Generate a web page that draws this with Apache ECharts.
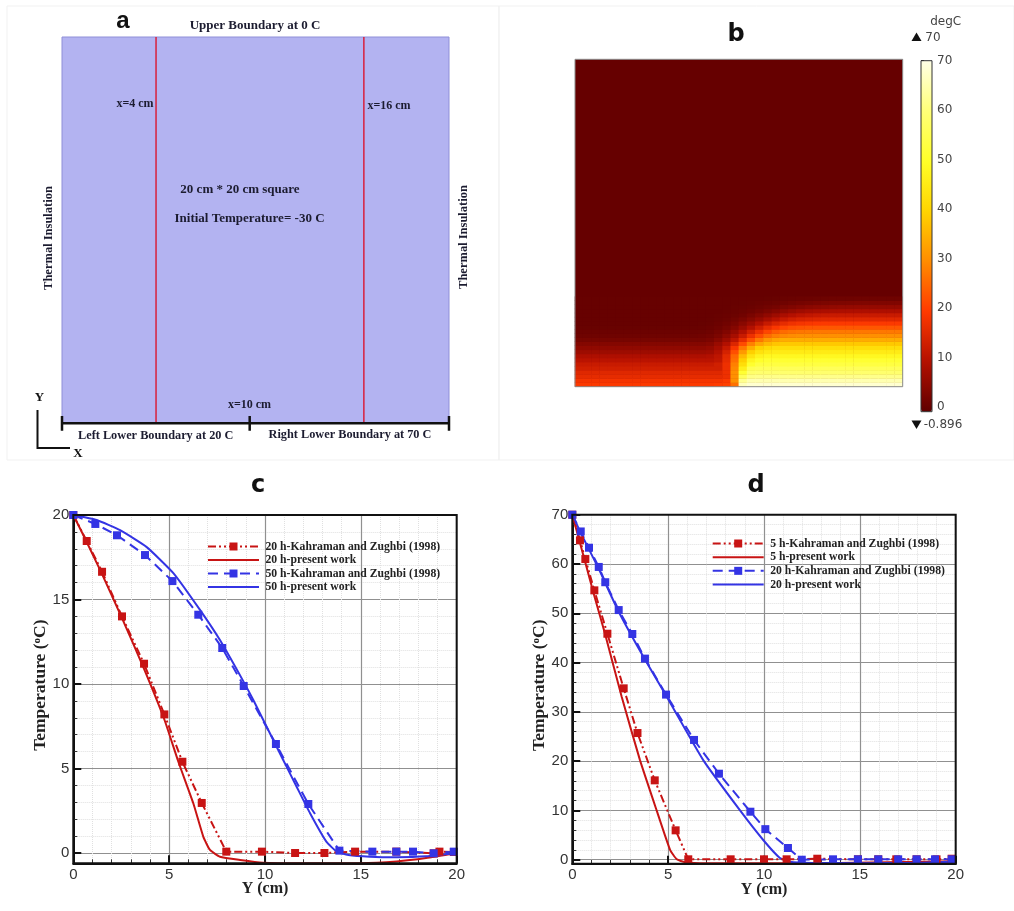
<!DOCTYPE html>
<html>
<head>
<meta charset="utf-8">
<style>html,body{margin:0;padding:0;background:#fff}#chart{width:1014px;height:911px;filter:blur(0.6px)}</style>
<script src="https://cdn.jsdelivr.net/npm/echarts@6/dist/echarts.min.js"></script>
</head>
<body>
<div id="chart"></div>
<script>
// ---------- panel a: section lines and lower boundary (cm) ----------
const sectionLineLeft = [[4.86, 0], [4.86, 20]];
const sectionLineRight = [[15.6, 0], [15.6, 20]];
const lowerBoundary = [[0, 0], [20, 0]];
const boundaryTickA = [[0, -0.38], [0, 0.38]];
const boundaryTickB = [[9.7, -0.38], [9.7, 0.38]];
const boundaryTickC = [[20, -0.38], [20, 0.38]];

// ---------- panel b: temperature, bottom row first ----------
const heatXCategories = ['0.25','0.75','1.25','1.75','2.25','2.75','3.25','3.75','4.25','4.75','5.25','5.75','6.25','6.75','7.25','7.75','8.25','8.75','9.25','9.75','10.25','10.75','11.25','11.75','12.25','12.75','13.25','13.75','14.25','14.75','15.25','15.75','16.25','16.75','17.25','17.75','18.25','18.75','19.25','19.75'];
const heatYCategories = ['0.125','0.375','0.625','0.875','1.125','1.375','1.625','1.875','2.125','2.375','2.625','2.875','3.125','3.375','3.625','3.875','4.125','4.375','4.625','4.875','5.125','5.375'];
const heatRow00 = [19,19,19,19,19,19,19,19,19,19,19,19,19,19,19,19,19,19.5,20,26,66,68,68,68,68,68,68,68,68,68,68,68,68,68,68,68,68,68,68,68];
const heatRow01 = [18,18,18,18,18,18,18,18,18,18,18,18,18,18,18,18,18,18,19,30,62,65,65,65,65,65,65,65,65,65,65,65,65,65,65,65,65,65,65,65];
const heatRow02 = [16,16,16,16,16,16,16,16,16,16,16,16,16,16,16,16,16,16,17,30,56,61,61.5,61.5,61.5,61.5,61.5,61.5,61.5,61.5,61.5,61.5,61.5,61.5,61.5,61.5,61.5,61.5,61.5,61.5];
const heatRow03 = [15,15,15,15,15,15,15,15,15,15,15,15,15,15,15,15,15,15,17,30,51,58,58.5,58.5,58.5,58.5,58.5,58.5,58.5,58.5,58.5,58.5,58.5,58.5,58.5,58.5,58.5,58.5,58.5,58.5];
const heatRow04 = [13,13,13,13,13,13,13,13,13,13,13,13,13,13,13,13,13,13,17,29,46,55,56,56,56,56,56,56,56,56,56,56,56,56,56,56,56,56,56,56];
const heatRow05 = [12,12,12,12,12,12,12,12,12,12,12,12,12,12,12,12,12,13,17,28,42,50.5,53,53,53,53,53,53,53,53,53,53,53,53,53,53,53,53,53,53];
const heatRow06 = [10,10,10,10,10,10,10,10,10,10,10,10,10,10,10,10,10,11,16,26,39,47.5,50,51,51,51,51,51,51,51,51,51,51,51,51,51,51,51,51,51];
const heatRow07 = [8.5,8.5,8.5,8.5,8.5,8.5,8.5,8.5,8.5,8.5,8.5,8.5,8.5,8.5,8.5,8.5,9,10.5,15.5,25,36,43.5,47,48,48,48,48,48,48,48,48,48,48,48,48,48,48,48,48,48];
const heatRow08 = [6.5,6.5,6.5,6.5,6.5,6.5,6.5,6.5,6.5,6.5,6.5,6.5,6.5,6.5,6.5,6.5,7,9,13.5,22,31.5,39,43,44.5,45,45,45,45,45,45,45,45,45,45,45,45,45,45,45,45];
const heatRow09 = [5,5,5,5,5,5,5,5,5,5,5,5,5,5,5,5,5.5,7.5,11.5,18.5,27,34,39,41,42,42,42,42,42,42,42,42,42,42,42,42,42,42,42,42];
const heatRow10 = [3.5,3.5,3.5,3.5,3.5,3.5,3.5,3.5,3.5,3.5,3.5,3.5,3.5,3.5,3.5,3.5,4,6,9,14.5,21.5,28,33,36,37.5,38,38,38,38,38,38,38,38,38,38,38,38,38,38,38];
const heatRow11 = [2,2,2,2,2,2,2,2,2,2,2,2,2,2,2,2,2.5,4,6.5,10.5,16,22,27,31,33,34,34,34,34,34,34,34,34,34,34,34,34,34,34,34];
const heatRow12 = [1,1,1,1,1,1,1,1,1,1,1,1,1,1,1,1.2,1.6,2.6,4.6,7.7,12,17,21.6,25.4,27.7,29,29.6,30,30,30,30,30,30,30,30,30,30,30,30,30];
const heatRow13 = [0.6,0.6,0.6,0.6,0.6,0.6,0.6,0.6,0.6,0.6,0.6,0.6,0.6,0.6,0.6,0.7,1,1.8,3.2,5.6,9,13,17,20.8,23.6,25.4,26.3,26.8,27,27,27,27,27,27,27,27,27,27,27,27];
const heatRow14 = [0.2,0.2,0.2,0.2,0.2,0.2,0.2,0.2,0.2,0.2,0.2,0.2,0.2,0.2,0.2,0.3,0.5,1,2,3.6,6.1,9.1,12.6,16,18.7,20.7,21.9,22.5,22.8,23,23,23,23,23,23,23,23,23,23,23];
const heatRow15 = [0,0,0,0,0,0,0,0,0,0,0,0,0,0,0,0.1,0.2,0.6,1.2,2.3,4.1,6.3,8.9,11.7,14.1,16,17.4,18.2,18.6,18.9,19,19,19,19,19,19,19,19,19,19];
const heatRow16 = [0,0,0,0,0,0,0,0,0,0,0,0,0,0,0,0,0.1,0.3,0.7,1.4,2.4,3.9,5.7,7.7,9.7,11.5,12.9,13.8,14.4,14.7,14.9,15,15,15,15,15,15,15,15,15];
const heatRow17 = [0,0,0,0,0,0,0,0,0,0,0,0,0,0,0,0,0,0.2,0.4,0.7,1.3,2.3,3.5,4.9,6.5,8,9.2,10.3,11,11.5,11.8,11.9,12,12,12,12,12,12,12,12];
const heatRow18 = [0,0,0,0,0,0,0,0,0,0,0,0,0,0,0,0,0,0,0.2,0.4,0.7,1.1,1.8,2.7,3.7,4.8,5.8,6.7,7.4,7.8,8.2,8.3,8.4,8.5,8.5,8.5,8.5,8.5,8.5,8.5];
const heatRow19 = [0,0,0,0,0,0,0,0,0,0,0,0,0,0,0,0,0,0,0,0.2,0.3,0.5,0.9,1.4,1.9,2.6,3.2,3.8,4.3,4.7,5,5.2,5.4,5.4,5.5,5.5,5.5,5.5,5.5,5.5];
const heatRow20 = [0,0,0,0,0,0,0,0,0,0,0,0,0,0,0,0,0,0,0,0,0.1,0.2,0.4,0.6,0.8,1.1,1.5,1.8,2.1,2.4,2.6,2.75,2.85,2.9,3,3,3,3,3,3];
const heatRow21 = [0,0,0,0,0,0,0,0,0,0,0,0,0,0,0,0,0,0,0,0,0,0,0,0.1,0.2,0.3,0.4,0.5,0.6,0.7,0.8,0.85,0.9,0.95,1,1,1,1,1,1];
const heatRows = [heatRow00,heatRow01,heatRow02,heatRow03,heatRow04,heatRow05,heatRow06,heatRow07,heatRow08,heatRow09,heatRow10,heatRow11,heatRow12,heatRow13,heatRow14,heatRow15,heatRow16,heatRow17,heatRow18,heatRow19,heatRow20,heatRow21];
const colorbarStops = ['#5f0000','#b41000','#ff3a00','#ff8c00','#ffd400','#ffff28','#ffff78','#ffffe6'];
const colorbarTicks = [0,10,20,30,40,50,60,70];

// ---------- panel c ----------
const cRedMarked = [[0,20],[0.7,18.46],[1.5,16.64],[2.54,14],[3.69,11.2],[4.75,8.2],[5.69,5.4],[6.7,2.96],[7.98,0.08],[9.84,0.08],[11.57,0],[13.1,0],[14.7,0.08],[16.85,0.08],[18.8,-0.02],[19.1,0.08],[19.85,0.06]];
const cRedSolid = [[0,20],[0.7,18.4],[1.5,16.5],[2.54,13.9],[3.69,10.9],[4.75,7.9],[5.48,5.4],[6.26,2.94],[6.78,0.97],[7.13,0.18],[7.65,-0.22],[8.7,-0.41],[9.9,-0.57],[12,-0.6],[15,-0.6],[16.87,-0.5],[18.4,-0.3],[20,0]];
const cBlueMarked = [[0,20],[1.15,19.47],[2.28,18.8],[3.74,17.63],[5.17,16.09],[6.52,14.1],[7.77,12.13],[8.89,9.88],[10.57,6.45],[12.26,2.9],[13.88,0.14],[15.6,0.08],[16.85,0.08],[17.72,0.08],[18.8,-0.02],[19.85,0.08]];
const cBlueSolid = [[0,20],[1.22,19.7],[2.44,19.1],[3.83,18.1],[5.23,16.55],[6.6,14.4],[7.65,12.6],[8.88,10.14],[9.39,9.05],[10.95,5.5],[11.65,3.92],[12.35,2.35],[13.2,0.67],[13.74,0.08],[14.35,-0.12],[15.47,-0.22],[16.87,-0.25],[18.4,-0.2],[20,0]];
const cYMajor = [0,5,10,15,20];
const cYMinor = [0,1,2,3,4,5,6,7,8,9,10,11,12,13,14,15,16,17,18,19,20];

// ---------- panel d ----------
const dRedMarked = [[0,70],[0.4,64.8],[0.68,61],[1.15,54.65],[1.83,45.85],[2.68,34.77],[3.4,25.7],[4.3,16.1],[5.39,5.96],[6.05,0.08],[8.26,0.08],[10,0.08],[11.18,0.08],[12.78,0.2],[14.9,0.08],[15.96,0.08],[16.9,0.08],[17.96,0.08],[19,0.08],[19.79,0.2]];
const dRedSolid = [[0,70],[0.35,65],[0.7,60],[1.15,53.5],[1.71,45.8],[2.58,33],[3.53,20.2],[4.4,10],[5.1,2],[5.45,0.08],[5.88,-0.5],[7,-0.7],[13,-0.7],[20,-0.3]];
const dBlueMarked = [[0,70],[0.44,66.6],[0.87,63.3],[1.38,59.4],[1.72,56.3],[2.42,50.65],[3.13,45.8],[3.79,40.8],[4.89,33.5],[6.35,24.3],[7.65,17.45],[9.29,9.74],[10.07,6.2],[11.25,2.37],[11.97,0],[13.6,0.08],[14.9,0.08],[15.96,0.08],[17,0.08],[17.96,0.08],[18.92,0.08],[19.79,0.08]];
const dBlueSolid = [[0,70],[0.44,66.3],[1.38,59],[2.42,50.3],[3.79,40.6],[4.89,33.3],[6.83,20.2],[8.75,10],[9.96,4],[10.83,0.35],[11.36,-0.4],[12.5,-0.65],[15,-0.7],[18,-0.65],[20,-0.4]];
const dYMajor = [0,10,20,30,40,50,60,70];
const dYMinor = [0,2,4,6,8,10,12,14,16,18,20,22,24,26,28,30,32,34,36,38,40,42,44,46,48,50,52,54,56,58,60,62,64,66,68,70];

// ---------- legend / series names ----------
const cNames = ['20 h-Kahraman and Zughbi (1998)','20 h-present work','50 h-Kahraman and Zughbi (1998)','50 h-present work'];
const dNames = ['5 h-Kahraman and Zughbi (1998)','5 h-present work','20 h-Kahraman and Zughbi (1998) ','20 h-present work '];

const RED = '#c81414', BLUE = '#3434e4';
const SERIF = '"Liberation Serif", serif', SANS = '"Liberation Sans", Arial, sans-serif', DEJAVU = '"DejaVu Sans", sans-serif';

function markedSeries(name, data, color, dash, xi, yi) {
  return {type:'line', name, data, xAxisIndex:xi, yAxisIndex:yi, symbol:'rect', symbolSize:8,
    itemStyle:{color}, lineStyle:{color, width:2, type:dash}, animation:false, z:3};
}
function solidSeries(name, data, color, xi, yi) {
  return {type:'line', name, data, xAxisIndex:xi, yAxisIndex:yi, symbol:'circle', showSymbol:false, smooth:0.15,
    itemStyle:{color:'transparent'}, lineStyle:{color, width:2}, animation:false, z:2};
}
function plainLine(name, data, color, width, xi, yi) {
  return {type:'line', name, data, xAxisIndex:xi, yAxisIndex:yi, symbol:'none', clip:false, silent:true,
    itemStyle:{color}, lineStyle:{color, width}, animation:false, z:4};
}
function hiddenX(grid, min, max){return {type:'value', gridIndex:grid, show:false, min, max};}
function hiddenY(grid, min, max){return {type:'value', gridIndex:grid, show:false, min, max};}
function plotX(grid){
  return {type:'value', gridIndex:grid, min:0, max:20, interval:5,
    name:'Y (cm)', nameLocation:'middle', nameGap:18, nameMoveOverlap:false,
    nameTextStyle:{fontFamily:SERIF, fontWeight:'bold', fontSize:16, color:'#222'},
    axisLine:{onZero:false, lineStyle:{color:'#111', width:2}},
    axisTick:{inside:true, length:8, lineStyle:{color:'#111', width:2}},
    minorTick:{show:true, splitNumber:5, length:4, lineStyle:{color:'#333', width:1}},
    axisLabel:{fontFamily:SANS, fontSize:15, color:'#333', margin:4},
    splitLine:{show:true, lineStyle:{color:'#909090', width:1.2}},
    minorSplitLine:{show:true, lineStyle:{color:'#e0e0e0', width:1, type:'dotted'}}};
}
function plotYMinor(grid, min, max, values){
  return {type:'value', gridIndex:grid, position:'left', min, max,
    axisLine:{show:false},
    axisTick:{show:true, inside:true, length:4, customValues:values, lineStyle:{color:'#333', width:1}},
    axisLabel:{show:false},
    splitLine:{show:true, lineStyle:{color:'#e0e0e0', width:1, type:'dotted'}}};
}
function plotYMajor(grid, min, max, values){
  return {type:'value', gridIndex:grid, position:'left', min, max,
    name:'Temperature ({sup|o}C)', nameLocation:'middle', nameGap:24, nameRotate:90, nameMoveOverlap:false,
    nameTextStyle:{fontFamily:SERIF, fontWeight:'bold', fontSize:17.5, color:'#222', padding:[0,0,0,8],
      rich:{sup:{fontFamily:SERIF, fontWeight:'bold', fontSize:11, color:'#222', verticalAlign:'top', lineHeight:15}}},
    axisLine:{show:true, onZero:false, lineStyle:{color:'#111', width:2}},
    axisTick:{show:true, inside:true, length:8, customValues:values, lineStyle:{color:'#111', width:2}},
    axisLabel:{show:true, customValues:values, fontFamily:SANS, fontSize:15, color:'#333', margin:4},
    splitLine:{show:true, lineStyle:{color:'#909090', width:1.2}}};
}

const heatData = [];
heatRows.forEach((row, r) => row.forEach((v, c) => heatData.push([c, r, v])));

// ---------- annotations ----------
function label(text, x, y, font, fill, rotation) {
  return {type:'text', x, y, rotation:rotation||0, silent:true, z:20,
    style:{text, font, fill, align:'center', verticalAlign:'middle'}};
}
const fontA = 'bold 13px ' + SERIF, fontB = 'bold 12px ' + SERIF, fontC = 'bold 12.3px ' + SERIF, inkA = '#1c1c30';
const annotations = [
  {type:'rect', shape:{x:7,y:6,width:492,height:454}, silent:true, z:0, style:{fill:'none', stroke:'#f1f1f1', lineWidth:1}},
  {type:'rect', shape:{x:499,y:6,width:515,height:454}, silent:true, z:0, style:{fill:'none', stroke:'#f1f1f1', lineWidth:1}},
  label('a',123,21,'bold 24px '+SANS,'#111'),
  label('b',736,35,'bold 24px '+DEJAVU,'#111'),
  label('c',258,486,'bold 24px '+DEJAVU,'#111'),
  label('d',756,486,'bold 24px '+DEJAVU,'#111'),
  label('Upper Boundary at 0 C',255,26,fontA,inkA),
  label('x=4 cm',135,104,fontB,inkA),
  label('x=16 cm',389,106,fontB,inkA),
  label('20 cm * 20 cm square',240,190,fontA,inkA),
  label('Initial Temperature= -30 C',249.5,219,fontA,inkA),
  label('Thermal Insulation',48.5,238,'bold 12.5px '+SERIF,inkA,Math.PI/2),
  label('Thermal Insulation',463.5,237,'bold 12.5px '+SERIF,inkA,Math.PI/2),
  label('x=10 cm',249.5,405,fontB,inkA),
  label('Left Lower Boundary at 20 C',155.7,435.5,fontC,inkA),
  label('Right Lower Boundary at 70 C',350,434.5,fontC,inkA),
  label('Y',39.5,398,fontA,'#111'),
  label('X',78,454,fontA,'#111'),
  {type:'polyline', shape:{points:[[37.5,410],[37.5,448],[70,448]]}, silent:true, z:20, style:{fill:'none', stroke:'#111', lineWidth:2}},
  {type:'rect', shape:{x:575,y:59.3,width:327.7,height:327.4}, silent:true, z:20, style:{fill:'none', stroke:'#8a8a8a', lineWidth:1}},
  {type:'rect', shape:{x:73.3,y:515,width:383.4,height:348.3}, silent:true, z:20, style:{fill:'none', stroke:'#111', lineWidth:2}},
  {type:'rect', shape:{x:572.3,y:514.7,width:383.4,height:349}, silent:true, z:20, style:{fill:'none', stroke:'#111', lineWidth:2}},
  label('degC',945.7,22,'12px '+DEJAVU,'#444'),
  label('70',933,38,'12px '+DEJAVU,'#444'),
  label('-0.896',943,425,'12px '+DEJAVU,'#444'),
  {type:'polygon', shape:{points:[[911.5,41],[921.5,41],[916.5,32.5]]}, silent:true, z:20, style:{fill:'#111'}},
  {type:'polygon', shape:{points:[[911.5,420.5],[921.5,420.5],[916.5,429]]}, silent:true, z:20, style:{fill:'#111'}}
];

const legendText = {fontFamily:SERIF, fontWeight:'bold', fontSize:11.7, color:'#222', lineHeight:12, padding:[0,0,0,1.5]};
const option = {
  backgroundColor:'#ffffff',
  animation:false,
  graphic:{elements:annotations},
  grid:[
    {left:62, top:37, width:387, height:386.3, show:true, backgroundColor:'#b3b3f1', borderColor:'#8f8fd8', borderWidth:1},
    {left:575, top:59.3, width:327.7, height:327.4, show:true, backgroundColor:'#660000', borderWidth:0},
    {left:575, top:296.65, width:327.7, height:90.05},
    {left:921, top:60.7, width:11, height:351, show:true, backgroundColor:'transparent', borderColor:'#333', borderWidth:1, z:5},
    {left:73.3, top:515, width:383.4, height:348.3, show:true, backgroundColor:'#fff', borderWidth:0},
    {left:572.3, top:514.7, width:383.4, height:349, show:true, backgroundColor:'#fff', borderWidth:0}
  ],
  xAxis:[
    hiddenX(0,0,20),
    hiddenX(1,0,20),
    {type:'category', gridIndex:2, show:false, data:heatXCategories},
    hiddenX(3,0,1),
    plotX(4),
    plotX(5)
  ],
  yAxis:[
    hiddenY(0,0,20),
    hiddenY(1,0,20),
    {type:'category', gridIndex:2, show:false, data:heatYCategories},
    {type:'value', gridIndex:3, position:'right', min:-0.896, max:70,
      axisLine:{show:false},
      axisTick:{show:true, length:3, customValues:colorbarTicks, lineStyle:{color:'#333', width:1}},
      axisLabel:{show:true, customValues:colorbarTicks, margin:5, fontFamily:DEJAVU, fontSize:12, color:'#444'},
      splitLine:{show:false}},
    plotYMinor(4,-0.61,20,cYMinor),
    plotYMajor(4,-0.61,20,cYMajor),
    plotYMinor(5,-0.81,70,dYMinor),
    plotYMajor(5,-0.81,70,dYMajor)
  ],
  visualMap:{type:'continuous', seriesIndex:0, min:-0.896, max:70, left:921, top:60.7, itemWidth:11, itemHeight:351, padding:0,
    calculable:false, realtime:false, showLabel:false, inRange:{color:colorbarStops}, hoverLink:false},
  legend:[
    {data:cNames, orient:'vertical', left:207, top:540.5, itemWidth:51, itemHeight:10, itemGap:1.5, padding:0, selectedMode:false, textStyle:legendText},
    {data:dNames, orient:'vertical', left:711.7, top:537.5, itemWidth:51, itemHeight:10, itemGap:1.67, padding:0, selectedMode:false, textStyle:legendText}
  ],
  series:[
    {type:'heatmap', name:'temperature', data:heatData, xAxisIndex:2, yAxisIndex:2, silent:true, progressive:0, animation:false},
    plainLine('x=4 cm',sectionLineLeft,'#d8203c',1.5,0,0),
    plainLine('x=16 cm',sectionLineRight,'#d8203c',1.5,0,0),
    plainLine('lower boundary',lowerBoundary,'#111',2.5,0,0),
    plainLine('boundary tick left',boundaryTickA,'#111',2.5,0,0),
    plainLine('boundary tick middle',boundaryTickB,'#111',2.5,0,0),
    plainLine('boundary tick right',boundaryTickC,'#111',2.5,0,0),
    markedSeries(cNames[0],cRedMarked,RED,[8,3,2,3,2,3],4,5),
    solidSeries(cNames[1],cRedSolid,RED,4,5),
    markedSeries(cNames[2],cBlueMarked,BLUE,[10,6],4,5),
    solidSeries(cNames[3],cBlueSolid,BLUE,4,5),
    markedSeries(dNames[0],dRedMarked,RED,[8,3,2,3,2,3],5,7),
    solidSeries(dNames[1],dRedSolid,RED,5,7),
    markedSeries(dNames[2],dBlueMarked,BLUE,[10,6],5,7),
    solidSeries(dNames[3],dBlueSolid,BLUE,5,7)
  ]
};
const chart = echarts.init(document.getElementById('chart'), null, {renderer:'canvas'});
chart.setOption(option);
</script>
</body>
</html>
